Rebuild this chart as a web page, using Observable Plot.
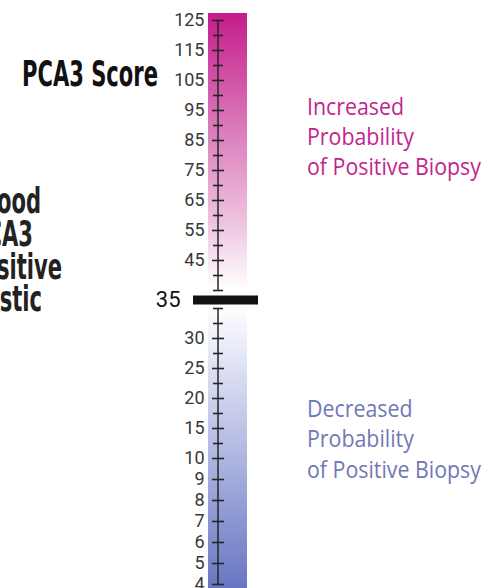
<!DOCTYPE html>
<html><head><meta charset="utf-8">
<script src="https://cdn.jsdelivr.net/npm/d3@7"></script>
<script src="https://cdn.jsdelivr.net/npm/@observablehq/plot@0.6"></script>
<style>
html,body{margin:0;padding:0;background:#fff;}
#chart{position:relative;width:485px;height:588px;overflow:hidden;}
</style></head><body><div id="chart"></div>
<script>
// ---- data ----
const titleText = "PCA3 Score";
const leftLines = ["Blood", "PCA3", "Positive", "Diagnostic"];
const upperLines = ["Increased", "Probability", "of Positive Biopsy"];
const lowerLines = ["Decreased", "Probability", "of Positive Biopsy"];
const cutoff = 35;
const upperSpan = [35, 125];
const lowerSpan = [4, 35];
const scaleBreaks = [4, 10, 35, 125];
const upperMajor = [45, 55, 65, 75, 85, 95, 105, 115, 125];
const upperMinor = [35, 40, 50, 60, 70, 80, 90, 100, 110, 120];
const lowerMajor = [30, 25, 20, 15, 10, 9, 8, 7, 6, 5, 4];
const lowerMinor = [35, 32.5, 27.5, 22.5, 17.5, 12.5];

// ---- styles ----
const ink = "#262626";
const upShift = -18;

const defsMark = () => {
  const defs = d3.create("svg:defs");
  const up = defs.append("linearGradient").attr("id", "gradUp")
    .attr("x1", 0).attr("y1", 0).attr("x2", 0).attr("y2", 1);
  [["0%", "#c41c8a"], ["40%", "#da77b9"], ["75%", "#eec2df"], ["100%", "#ffffff"]]
    .forEach(([o, c]) => up.append("stop").attr("offset", o).attr("stop-color", c));
  const dn = defs.append("linearGradient").attr("id", "gradDown")
    .attr("x1", 0).attr("y1", 0).attr("x2", 0).attr("y2", 1);
  [["0%", "#ffffff"], ["8%", "#f3f4fb"], ["45%", "#bcc2e6"], ["100%", "#6776c1"]]
    .forEach(([o, c]) => dn.append("stop").attr("offset", o).attr("stop-color", c));
  return defs.node();
};

const span = (s) => ({y1: s[0], y2: s[1]});

const plot = Plot.plot({
  width: 485, height: 588,
  marginLeft: 208, marginRight: 238, marginTop: 0, marginBottom: 0,
  style: {fontFamily: "Roboto, sans-serif", background: "#fff"},
  y: {type: "linear", domain: scaleBreaks, range: [584, 458, 308, 38], axis: null},
  marks: [
    defsMark,
    Plot.rect([span(upperSpan)], {y1: "y1", y2: "y2", fill: "url(#gradUp)", dy: upShift, insetTop: -7}),
    Plot.rect([span(lowerSpan)], {y1: "y1", y2: "y2", fill: "url(#gradDown)", insetBottom: -4, insetTop: -3}),
    Plot.rect([span(upperSpan)], {y1: "y1", y2: "y2", fill: ink, dy: upShift, insetLeft: 9.25, insetRight: 28.25}),
    Plot.rect([span(lowerSpan)], {y1: "y1", y2: "y2", fill: ink, insetLeft: 9.25, insetRight: 28.25}),
    Plot.tickY(upperMajor, {y: d => d, dy: upShift, stroke: ink, strokeWidth: 1.6, insetLeft: 4, insetRight: 23}),
    Plot.tickY(upperMinor, {y: d => d, dy: upShift, stroke: ink, strokeWidth: 1.6, insetLeft: 5, insetRight: 24}),
    Plot.tickY(lowerMajor, {y: d => d, stroke: ink, strokeWidth: 1.6, insetLeft: 4, insetRight: 23}),
    Plot.tickY(lowerMinor, {y: d => d, stroke: ink, strokeWidth: 1.6, insetLeft: 5, insetRight: 24}),
    Plot.text(upperMajor, {y: d => d, text: d => String(d), dy: upShift, frameAnchor: "left", textAnchor: "end", dx: -4, fontSize: 18, fill: "#383838"}),
    Plot.text(lowerMajor, {y: d => d, text: d => String(d), frameAnchor: "left", textAnchor: "end", dx: -4, fontSize: 18, fill: "#383838"}),
    Plot.ruleY([cutoff], {y: d => d, dy: -8.5, stroke: "#111", strokeWidth: 9, insetLeft: -15, insetRight: -11}),
    Plot.text([cutoff], {y: d => d, text: d => String(d), dy: -8.5, frameAnchor: "left", textAnchor: "end", dx: -28, fontSize: 22, fill: "#111"})
  ]
});

document.getElementById("chart").appendChild(plot);

// ---- annotations ----
const svg = d3.select(plot);
const g = svg.append("g");
const condensed = "'Liberation Sans Narrow','DejaVu Sans Condensed','Roboto Condensed',Roboto,sans-serif";
const humanist = "'Open Sans','Noto Sans',Lato,sans-serif";

function addText(str, x, y, opts) {
  return g.append("text").attr("x", x).attr("y", y)
    .attr("font-family", opts.family).attr("font-size", opts.size)
    .attr("font-weight", opts.weight || "normal")
    .attr("fill", opts.fill).attr("text-anchor", opts.anchor || "start")
    .text(str);
}
function natural(t) { return t.node().getComputedTextLength(); }

const title = addText(titleText, 22, 86, {family: condensed, size: 36, weight: "bold", fill: "#111"});
const ratio = 136 / natural(title);
title.attr("textLength", 136).attr("lengthAdjust", "spacingAndGlyphs");

const leftRight = [41, 33, 62, 42];
const leftBase = [213, 246, 279, 311];
leftLines.forEach((s, i) => {
  const t = addText(s, leftRight[i], leftBase[i], {family: condensed, size: 36, weight: "bold", fill: "#222", anchor: "end"});
  t.attr("textLength", natural(t) * ratio).attr("lengthAdjust", "spacingAndGlyphs");
});

function block(lines, base, color) {
  const ts = lines.map((s, i) => addText(s, 307, base[i], {family: humanist, size: 23, fill: color}));
  const r = 174 / natural(ts[2]);
  ts.forEach(t => t.attr("textLength", natural(t) * r).attr("lengthAdjust", "spacingAndGlyphs"));
}
block(upperLines, [115, 145, 175], "#c0268d");
block(lowerLines, [417, 447, 478], "#6f79b6");
</script>
</body></html>
